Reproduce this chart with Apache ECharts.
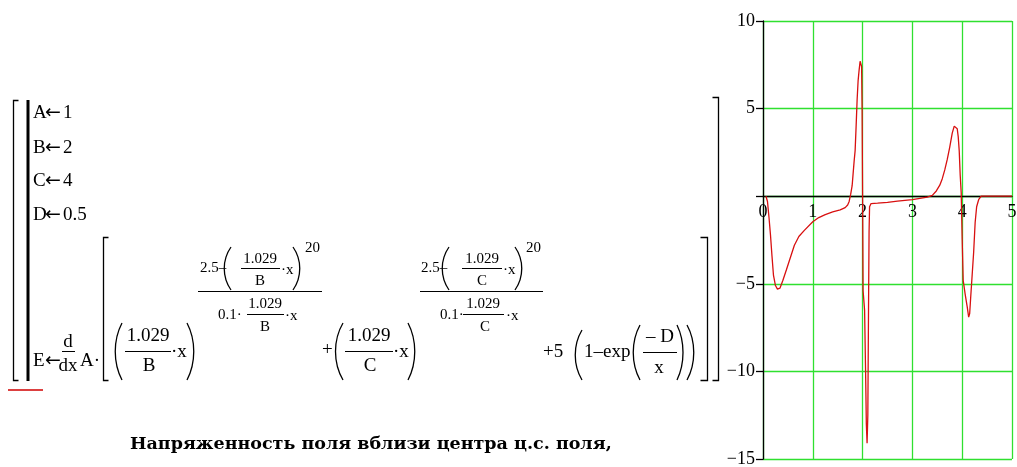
<!DOCTYPE html>
<html>
<head>
<meta charset="utf-8">
<script src="https://cdn.jsdelivr.net/npm/echarts@6/dist/echarts.min.js"></script>
<style>
  html, body { margin: 0; padding: 0; background: #ffffff; }
  #chart { width: 1017px; height: 467px; }
</style>
</head>
<body>
<div id="chart"></div>
<script>
// Field strength E(x) sampled along the x range
const xValues = [
  0.06, 0.09, 0.12, 0.15, 0.18, 0.21, 0.25, 0.29, 0.34, 0.40,
  0.47, 0.55, 0.63, 0.72, 0.83, 1.00, 1.12, 1.25, 1.40, 1.55,
  1.65, 1.70, 1.73, 1.76, 1.79, 1.81, 1.83, 1.85, 1.87, 1.89,
  1.91, 1.93, 1.95, 1.97, 1.98, 1.99, 2.00, 2.01, 2.04, 2.06,
  2.075, 2.09, 2.105, 2.12, 2.13, 2.14, 2.17, 2.30, 2.50, 2.70,
  2.90, 3.00, 3.15, 3.30, 3.40, 3.48, 3.55, 3.60, 3.65, 3.70,
  3.75, 3.80, 3.84, 3.87, 3.90, 3.92, 3.94, 3.96, 3.98, 4.00,
  4.02, 4.06, 4.10, 4.13, 4.15, 4.17, 4.20, 4.23, 4.26, 4.29,
  4.33, 4.38, 5.00
];
const eValues = [
  0.0, -0.3, -1.2, -2.2, -3.4, -4.5, -5.1, -5.3, -5.25, -4.8,
  -4.2, -3.5, -2.8, -2.3, -1.95, -1.46, -1.22, -1.05, -0.9, -0.78,
  -0.65, -0.5, -0.3, 0.1, 0.6, 1.3, 2.0, 2.6, 4.0, 5.5,
  6.6, 7.2, 7.7, 7.8, 7.4, 5.0, 0.0, -5.4, -6.5, -10.0,
  -13.0, -14.1, -12.5, -6.0, -2.0, -0.6, -0.42, -0.4, -0.35, -0.28,
  -0.22, -0.19, -0.12, -0.05, 0.05, 0.3, 0.63, 1.0, 1.5, 2.1,
  2.8, 3.6, 4.0, 4.05, 3.85, 3.4, 2.6, 1.2, 0.2, -2.5,
  -4.8, -5.6, -6.3, -6.9, -6.7, -5.8, -4.5, -3.2, -1.5, -0.6,
  -0.2, 0.0, 0.0
];
const xTickLabels = ['0', '1', '2', '3', '4', '5'];
const yTickLabels = { '10': '10', '5': '5', '0': '', '-5': '\u22125', '-10': '\u221210', '-15': '\u221215' };

const seriesData = xValues.map((x, i) => [x, eValues[i]]);

// ---- worksheet formula drawn as text and strokes ----
const SERIF = "'Liberation Serif', 'Times New Roman', serif";
const BIG = 19, SMALL = 15;
const els = [];
function txt(s, x, y, size, align) {
  els.push({ type: 'text', x: x, y: y, silent: true,
    style: { text: s, font: size + 'px ' + SERIF, fill: '#000',
             textAlign: align || 'left', textVerticalAlign: 'middle' } });
}
// assignment "name <- value" with the arrow set tight against both sides
function assign(name, value, x, y) {
  txt(name, x, y, BIG);
  els.push({ type: 'text', x: x + 12, y: y, silent: true,
    style: { text: '\u2190', font: BIG + "px 'DejaVu Sans', sans-serif", fill: '#000',
             textAlign: 'left', textVerticalAlign: 'middle' } });
  if (value) txt(value, x + 30, y, BIG);
}
function seg(x1, y1, x2, y2, w, color) {
  els.push({ type: 'line', silent: true, shape: { x1: x1, y1: y1, x2: x2, y2: y2 },
    style: { stroke: color || '#000', lineWidth: w || 1 } });
}
function poly(pts, w) {
  els.push({ type: 'polyline', silent: true, shape: { points: pts },
    style: { stroke: '#000', fill: null, lineWidth: w || 1.2 } });
}
function paren(xl, xr, top, bottom, open) {
  const h = bottom - top;
  const edge = open ? xr : xl, bulge = open ? xl : xr;
  els.push({ type: 'bezierCurve', silent: true,
    shape: { x1: edge, y1: top, x2: edge, y2: bottom,
             cpx1: bulge, cpy1: top + h * 0.3, cpx2: bulge, cpy2: bottom - h * 0.3 },
    style: { stroke: '#000', fill: null, lineWidth: 1.3 } });
}

// outer program bracket and bar
poly([[18.5, 100.5], [13.5, 100.5], [13.5, 380.5], [18.5, 380.5]], 1.3);
seg(28, 100, 28, 381, 3);
poly([[712.5, 97.5], [718.5, 97.5], [718.5, 380.5], [712.5, 380.5]], 1.3);

// assignments
assign('A', '1', 33, 113.5);
assign('B', '2', 33, 148);
assign('C', '4', 33, 181);
assign('D', '0.5', 33, 215);

// E <- d/dx A [ ... ]
assign('E', '', 33, 361);
txt('d', 68, 342, BIG, 'center');
seg(62, 351.5, 75, 351.5, 1);
txt('dx', 68, 366, BIG, 'center');
txt('A\u00b7', 80, 361, BIG);
poly([[108.5, 237.5], [103.5, 237.5], [103.5, 380.5], [108.5, 380.5]], 1.3);
poly([[700.5, 237.5], [707.5, 237.5], [707.5, 380.5], [700.5, 380.5]], 1.3);

// (1.029/B x)^(...)
paren(113, 122, 323, 380, true);
txt('1.029', 148, 336.5, BIG, 'center');
seg(125, 351.5, 171, 351.5, 1);
txt('B', 149, 366.5, BIG, 'center');
txt('\u00b7x', 171, 352, BIG);
paren(187, 196, 323, 380, false);
// exponent 1
txt('2.5\u2013', 200, 268, SMALL);
paren(222, 231, 247, 290, true);
txt('1.029', 260, 259, SMALL, 'center');
seg(241, 268.5, 280, 268.5, 1);
txt('B', 260, 281, SMALL, 'center');
txt('\u00b7x', 281, 270, SMALL);
paren(293, 302, 247, 290, false);
txt('20', 305, 248, SMALL);
seg(198, 291.5, 322, 291.5, 1);
txt('0.1\u00b7', 218, 315, SMALL);
txt('1.029', 265, 304, SMALL, 'center');
seg(247, 314.5, 284, 314.5, 1);
txt('B', 265, 327.5, SMALL, 'center');
txt('\u00b7x', 285, 316, SMALL);

// + (1.029/C x)^(...)
txt('+', 322, 350, BIG);
paren(333, 343, 323, 380, true);
txt('1.029', 369, 336.5, BIG, 'center');
seg(345, 351.5, 393, 351.5, 1);
txt('C', 370, 366.5, BIG, 'center');
txt('\u00b7x', 393, 352, BIG);
paren(408, 417, 323, 380, false);
// exponent 2
txt('2.5\u2013', 421, 268, SMALL);
paren(440, 449, 247, 290, true);
txt('1.029', 482, 259, SMALL, 'center');
seg(462, 268.5, 502, 268.5, 1);
txt('C', 482, 281, SMALL, 'center');
txt('\u00b7x', 503, 270, SMALL);
paren(515, 524, 247, 290, false);
txt('20', 526, 248, SMALL);
seg(420, 291.5, 543, 291.5, 1);
txt('0.1\u00b7', 440, 315, SMALL);
txt('1.029', 483, 304, SMALL, 'center');
seg(463, 314.5, 504, 314.5, 1);
txt('C', 485, 327.5, SMALL, 'center');
txt('\u00b7x', 506, 316, SMALL);

// + 5 (1 - exp(-D/x))
txt('+5', 543, 352, BIG);
paren(573, 582, 330, 380, true);
txt('1\u2013exp', 584, 352, BIG);
paren(631, 640, 325, 380, true);
txt('\u2013 D', 660, 337, BIG, 'center');
seg(643, 352.5, 677, 352.5, 1);
txt('x', 659, 368, BIG, 'center');
paren(677, 685, 325, 380, false);
paren(687, 696, 325, 380, false);

// evaluation marker under the program
seg(8, 390, 43, 390, 1.5, '#d00000');

// caption under the worksheet
els.push({ type: 'text', x: 130, y: 444, silent: true,
  style: { text: '\u041d\u0430\u043f\u0440\u044f\u0436\u0435\u043d\u043d\u043e\u0441\u0442\u044c \u043f\u043e\u043b\u044f \u0432\u0431\u043b\u0438\u0437\u0438 \u0446\u0435\u043d\u0442\u0440\u0430 \u0446.\u0441. \u043f\u043e\u043b\u044f,',
           font: "bold 17.5px 'DejaVu Serif', serif", fill: '#000',
           textAlign: 'left', textVerticalAlign: 'middle' } });

const chart = echarts.init(document.getElementById('chart'), null, { renderer: 'canvas' });
const GREEN = '#2fe02f';
chart.setOption({
  backgroundColor: '#ffffff',
  animation: false,
  grid: { left: 763, top: 21, width: 249, height: 438, containLabel: false, outerBoundsMode: 'none' },
  xAxis: {
    type: 'value', min: 0, max: 5, interval: 1,
    axisLine: { show: true, onZero: true, lineStyle: { color: '#000', width: 1.3 } },
    axisTick: { show: false },
    axisLabel: {
      // labels sit just under the zero line, not at the bottom edge of the grid
      margin: -256, color: '#000', fontFamily: SERIF, fontSize: 18,
      formatter: v => xTickLabels[Math.round(v)]
    },
    splitLine: { show: true, lineStyle: { color: GREEN, width: 1.3 } }
  },
  yAxis: {
    type: 'value', min: -15, max: 10, interval: 5,
    axisLine: { show: true, onZero: true, lineStyle: { color: '#000', width: 1.3 } },
    axisTick: { show: true, inside: false, length: 7, lineStyle: { color: '#000', width: 1.3 } },
    axisLabel: {
      margin: 8, color: '#000', fontFamily: SERIF, fontSize: 18,
      formatter: v => yTickLabels[String(v)]
    },
    splitLine: { show: true, lineStyle: { color: GREEN, width: 1.3 } }
  },
  series: [{
    type: 'line', data: seriesData, showSymbol: false, smooth: false,
    lineStyle: { color: '#d81010', width: 1.3 }, z: 5
  }],
  graphic: { elements: els }
});
</script>
</body>
</html>
